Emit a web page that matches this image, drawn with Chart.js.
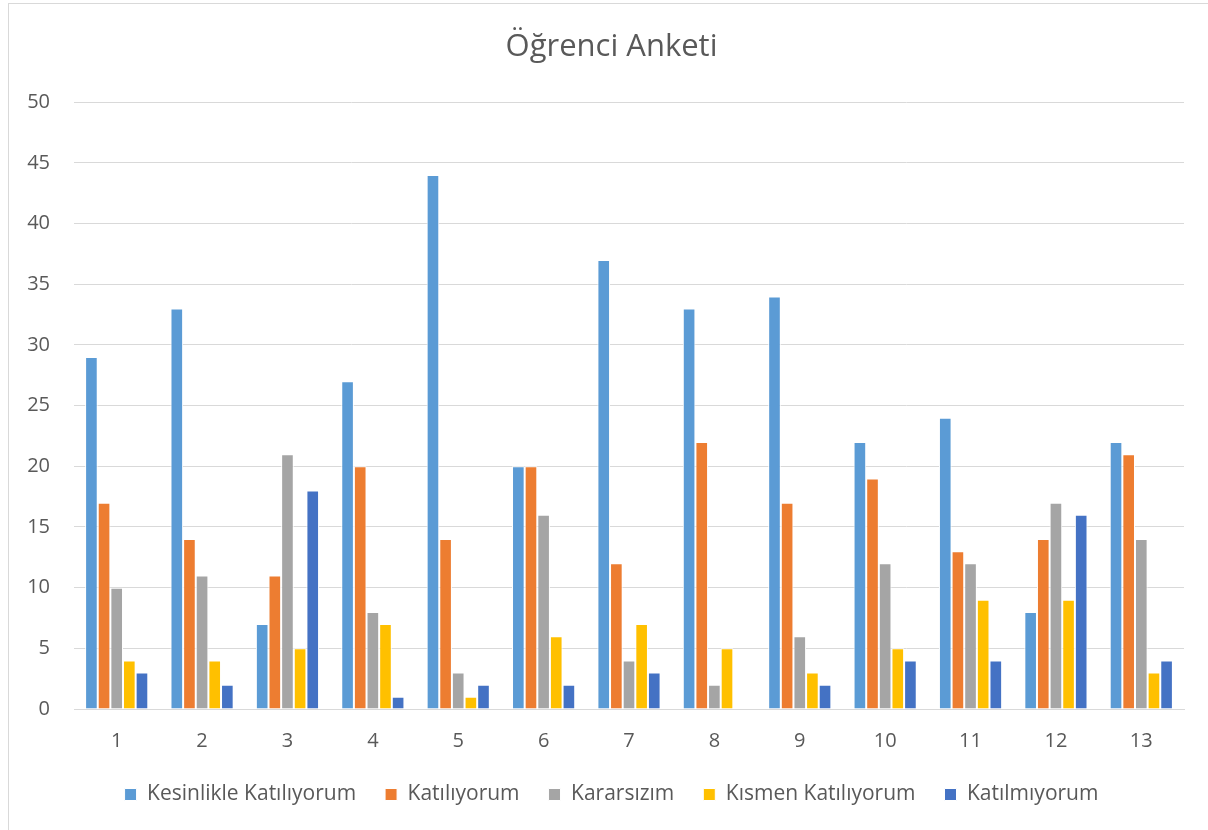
<!DOCTYPE html>
<html>
<head>
<meta charset="utf-8">
<script src="https://cdn.jsdelivr.net/npm/chart.js@4/dist/chart.umd.min.js"></script>
<style>
  html, body { margin: 0; padding: 0; background: #fff; overflow: hidden; }
  #kader { position: absolute; left: 8px; top: 3px; width: 1205px; height: 826px; border: 1px solid #d9d9d9; }
</style>
</head>
<body>
<div id="kader"><canvas id="grafiek" width="1205" height="826"></canvas></div>
<script>
const sorular = ['1','2','3','4','5','6','7','8','9','10','11','12','13'];
const kesinlikleKatiliyorum = [29, 33, 7, 27, 44, 20, 37, 33, 34, 22, 24, 8, 22];
const katiliyorum = [17, 14, 11, 20, 14, 20, 12, 22, 17, 19, 13, 14, 21];
const kararsizim = [10, 11, 21, 8, 3, 16, 4, 2, 6, 12, 12, 17, 14];
const kismenKatiliyorum = [4, 4, 5, 7, 1, 6, 7, 5, 3, 5, 9, 9, 3];
const katilmiyorum = [3, 2, 18, 1, 2, 2, 3, 0, 2, 4, 4, 16, 4];

const yazi = '"Open Sans", sans-serif';
const grijs = '#595959';

const ds = (label, data, kleur) => ({
    label, data, backgroundColor: kleur,
    borderColor: '#ffffff', borderWidth: 1,
    categoryPercentage: 0.74, barPercentage: 1
});

new Chart(document.getElementById('grafiek'), {
    type: 'bar',
    data: {
        labels: sorular,
        datasets: [
            ds('Kesinlikle Katılıyorum', kesinlikleKatiliyorum, '#5B9BD5'),
            ds('Katılıyorum', katiliyorum, '#ED7D31'),
            ds('Kararsızım', kararsizim, '#A5A5A5'),
            ds('Kısmen Katılıyorum', kismenKatiliyorum, '#FFC000'),
            ds('Katılmıyorum', katilmiyorum, '#4472C4')
        ]
    },
    options: {
        responsive: false,
        animation: false,
        layout: { padding: { left: 0, right: 0, top: 0, bottom: 15 } },
        plugins: {
            title: {
                display: true, text: 'Öğrenci Anketi', color: grijs,
                font: { family: yazi, size: 31, weight: 'normal' },
                padding: { top: 25, bottom: 36 }
            },
            legend: {
                position: 'bottom',
                labels: {
                    color: grijs, boxWidth: 12, boxHeight: 12, padding: 29,
                    font: { family: yazi, size: 21 }
                }
            },
            tooltip: { enabled: false }
        },
        scales: {
            x: {
                afterFit: s => { s.height -= 18; },
                grid: { display: false, drawTicks: false },
                border: { color: '#d9d9d9', width: 1 },
                ticks: { color: grijs, padding: 20, font: { family: yazi, size: 20 } }
            },
            y: {
                min: 0, max: 50,
                afterFit: s => { s.width = 65; },
                grid: { color: '#d9d9d9', drawTicks: false },
                border: { display: false },
                ticks: { stepSize: 5, color: grijs, padding: 24, font: { family: yazi, size: 20 } }
            },
            // lege as rechts: alleen ruimte, zodat de titel midden in het kader blijft
            rechts: {
                position: 'right', type: 'linear',
                afterFit: s => { s.width = 30; },
                grid: { display: false, drawTicks: false },
                border: { display: false },
                ticks: { display: false }
            }
        }
    }
});
</script>
</body>
</html>
